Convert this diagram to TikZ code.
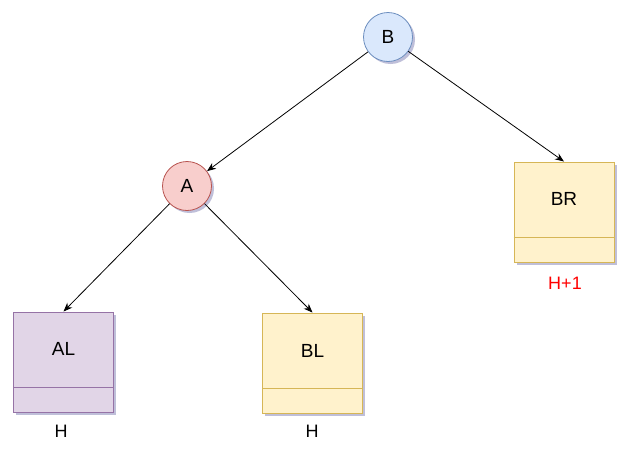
\documentclass[tikz,border=0pt]{standalone}
\usepackage{fontspec}
\setmainfont{Liberation Sans}
\usetikzlibrary{arrows.meta,shadows}
\definecolor{blueFill}{RGB}{218,232,252}
\definecolor{blueLine}{RGB}{108,142,191}
\definecolor{redFill}{RGB}{248,206,204}
\definecolor{redLine}{RGB}{184,84,80}
\definecolor{yellowFill}{RGB}{255,242,204}
\definecolor{yellowLine}{RGB}{214,182,86}
\definecolor{purpleFill}{RGB}{225,213,231}
\definecolor{purpleLine}{RGB}{150,115,166}
\begin{document}
\begin{tikzpicture}[x=1pt,y=-1pt,
  shade/.style={drop shadow={shadow xshift=2.5pt,shadow yshift=-2.5pt,opacity=0.25,fill=black!60!blue}},
  treenode/.style={circle,draw,line width=0.8pt,minimum size=49pt,inner sep=0pt,shade,font=\fontsize{19}{21}\selectfont},
  heapbox/.style={rectangle,draw,line width=0.9pt,minimum width=100pt,minimum height=100pt,inner sep=0pt,shade},
  boxtitle/.style={font=\fontsize{19}{21}\selectfont},
  heightlabel/.style={font=\fontsize{18}{20}\selectfont,inner sep=0pt},
  edge/.style={draw=black,line width=0.8pt,-{Stealth[length=9pt,width=7pt]}}
]
\useasboundingbox (0,0) rectangle (632,448);

% roots
\node[treenode,fill=blueFill,draw=blueLine] (B) at (388,37) {B};
\node[treenode,fill=redFill,draw=redLine] (A) at (187,186) {A};

% subtrees
\node[heapbox,fill=yellowFill,draw=yellowLine] (BR) at (564,212) {};
\node[heapbox,fill=purpleFill,draw=purpleLine] (AL) at (63.5,362) {};
\node[heapbox,fill=yellowFill,draw=yellowLine] (BL) at (312.5,363) {};

% divider lines and titles
\draw[line width=0.9pt,draw=yellowLine] ([yshift=25pt]BR.south west) -- ([yshift=25pt]BR.south east);
\draw[line width=0.9pt,draw=purpleLine] ([yshift=25pt]AL.south west) -- ([yshift=25pt]AL.south east);
\draw[line width=0.9pt,draw=yellowLine] ([yshift=25pt]BL.south west) -- ([yshift=25pt]BL.south east);
\node[boxtitle] (BRt) at (564,199) {BR};
\node[boxtitle] (ALt) at (63.5,349) {AL};
\node[boxtitle] (BLt) at (312.5,351) {BL};

% heights
\node[heightlabel,text=red] (hBR) at (565,283) {H+1};
\node[heightlabel] (hAL) at (61,431) {H};
\node[heightlabel] (hBL) at (312,431) {H};

% edges
\draw[edge] (B) -- (A);
\draw[edge] (B) -- (BR.north);
\draw[edge] (A) -- (AL.north);
\draw[edge] (A) -- (BL.north);
\end{tikzpicture}
\end{document}
